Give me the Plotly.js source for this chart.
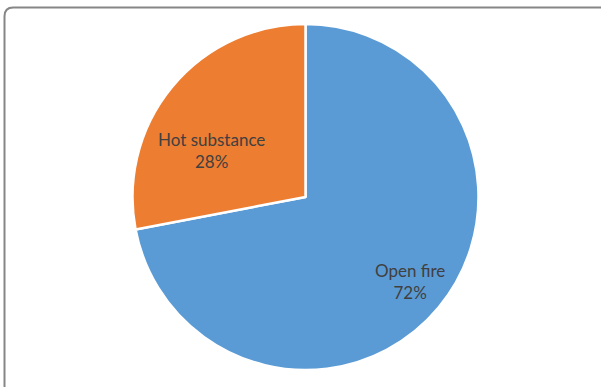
<!DOCTYPE html>
<html>
<head>
<meta charset="utf-8">
<script src="https://cdn.plot.ly/plotly-3.0.1.min.js"></script>
<style>html,body{margin:0;padding:0;background:#fff;}#chart{width:601px;height:387px;}</style>
</head>
<body>
<div id="chart"></div>
<script>
const labels = ["Open fire", "Hot substance"];
const values = [72, 28];
const colors = ["#5B9BD5", "#ED7D31"];
// label anchor positions (paper fraction) for the data labels
const labelX = [410.5 / 601, 211 / 601];
const labelY = [1 - 281 / 387, 1 - 150 / 387];

const W = 601, H = 387;
const total = values.reduce((a, b) => a + b, 0);

const trace = {
  type: "pie",
  labels: labels,
  values: values,
  sort: false,
  direction: "clockwise",
  rotation: 0,
  marker: {colors: colors, line: {color: "#ffffff", width: 2.5}},
  textinfo: "none",
  hoverinfo: "none",
  showlegend: false,
  domain: {x: [132/W, 479/W], y: [17/H, 363/H]}
};

const annotations = labels.map((lab, i) => ({
  xref: "paper", yref: "paper",
  x: labelX[i], y: labelY[i],
  xanchor: "center", yanchor: "middle",
  text: lab + "<br>" + Math.round(values[i] / total * 100) + "%",
  showarrow: false,
  align: "center",
  font: {family: "Lato, 'Open Sans', sans-serif", size: 17, color: "#404040"}
}));

const layout = {
  width: W, height: H,
  margin: {l: 0, r: 0, t: 0, b: 0},
  paper_bgcolor: "#ffffff",
  annotations: annotations,
  shapes: [{
    type: "path", xref: "paper", yref: "paper",
    path: "M 0.0075,-0.02 L 0.0075,0.958 Q 0.0075,0.9806 0.022,0.9806 L 1.02,0.9806",
    line: {color: "#868686", width: 2}
  }]
};

Plotly.newPlot("chart", [trace], layout, {staticPlot: true, displayModeBar: false});
</script>
</body>
</html>
